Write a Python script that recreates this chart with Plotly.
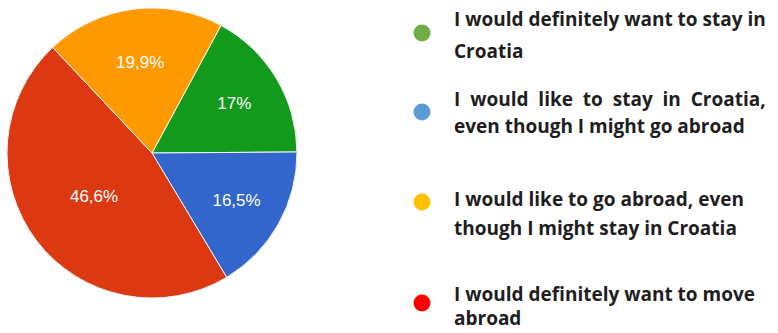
import plotly.graph_objects as go

# Data (slice order clockwise starting from the green slice)
labels = [
    "I would definitely want to stay in Croatia",
    "I would like to stay in Croatia, even though I might go abroad",
    "I would definitely want to move abroad",
    "I would like to go abroad, even though I might stay in Croatia",
]
values = [17, 16.5, 46.6, 19.9]
slice_colors = ["#129a1c", "#3366cc", "#dc3912", "#ff9900"]

# Legend (as shown in the reference, different order/colours)
legend_lines = [
    ["I would definitely want to stay in", "Croatia"],
    ["I would like to stay in Croatia,", "even though I might go abroad"],
    ["I would like to go abroad, even", "though I might stay in Croatia"],
    ["I would definitely want to move", "abroad"],
]
legend_colors = ["#70ad47", "#5b9bd5", "#ffc000", "#ff0000"]
justified = {(1, 0)}  # line drawn justified (wider word spacing) in the reference

texts = [(f"{v:g}".replace(".", ",") + "%") for v in values]

W, H = 778, 333

fig = go.Figure()
fig.add_trace(go.Pie(
    labels=labels,
    values=values,
    text=texts,
    texttemplate="%{text}",
    textposition="inside",
    insidetextfont=dict(color="white", size=17, family="Liberation Sans, Arial"),
    marker=dict(colors=slice_colors, line=dict(color="#f4f4f4", width=1)),
    sort=False,
    direction="clockwise",
    rotation=28.4,
    showlegend=False,
    hoverinfo="label+percent",
    domain=dict(x=[7 / W, 297 / W], y=[1 - 298 / H, 1 - 8 / H]),
))

# custom legend
dot_y = [33, 112, 202, 303]
line_y = [[18, 50], [98, 125], [198, 227], [293, 317]]
dot_x, dot_r = 422, 8.5
text_x = 452

shapes = []
annotations = []
for i in range(4):
    shapes.append(dict(
        type="circle", xref="paper", yref="paper",
        x0=(dot_x - dot_r) / W, x1=(dot_x + dot_r) / W,
        y0=1 - (dot_y[i] + dot_r) / H, y1=1 - (dot_y[i] - dot_r) / H,
        fillcolor=legend_colors[i], line=dict(width=0),
    ))
    for j, t in enumerate(legend_lines[i]):
        if (i, j) in justified:
            t = t.replace(" ", " \u00a0")
        annotations.append(dict(
            text="<b>" + t + "</b>", xref="paper", yref="paper",
            x=text_x / W, y=1 - (line_y[i][j] + 1) / H,
            xanchor="left", yanchor="middle", showarrow=False,
            font=dict(family="Open Sans", size=19, color="#1e1e1e"),
        ))

fig.update_layout(
    width=W, height=H,
    margin=dict(l=0, r=0, t=0, b=0),
    paper_bgcolor="white", plot_bgcolor="white",
    shapes=shapes, annotations=annotations,
)

fig.write_html("out.html")
